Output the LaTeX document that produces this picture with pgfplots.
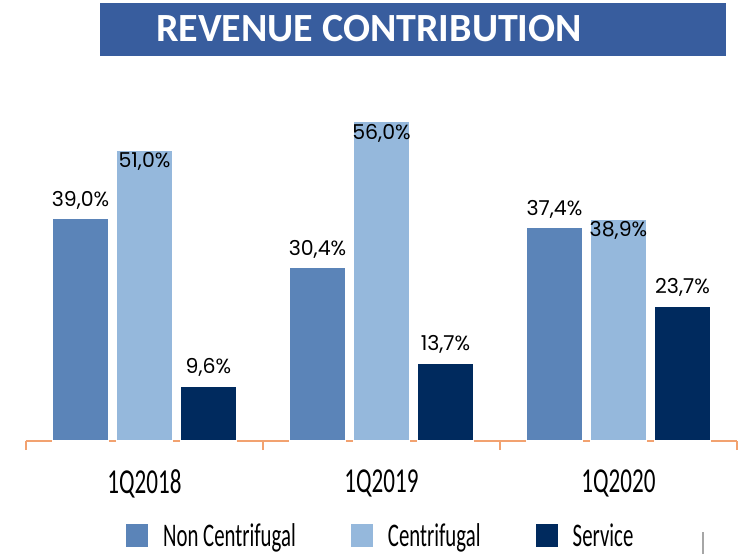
\documentclass[border=0pt]{standalone}
\usepackage{pgfplots}
\pgfplotsset{compat=1.18}
\usepackage{fontspec}
\setmainfont{Carlito}
\newfontfamily\labelfont{Poppins}
\newfontfamily\condfont[FakeStretch=0.66]{Carlito}
\newfontfamily\legfont[FakeStretch=0.63]{Carlito}
\definecolor{noncen}{RGB}{91,132,184}
\definecolor{cen}{RGB}{149,184,220}
\definecolor{serv}{RGB}{0,42,94}
\definecolor{banner}{RGB}{56,93,158}
\definecolor{axisor}{RGB}{242,162,112}
\begin{document}
\begin{tikzpicture}[x=1pt,y=1pt]
\useasboundingbox (0,0) rectangle (741,554);
\clip (0,0) rectangle (741,554);
\fill[banner] (100,498) rectangle (726,551);
\node[text=white, font=\fontsize{40}{40}\selectfont\bfseries] at (369,525) {REVENUE CONTRIBUTION};
\draw[black!35, line width=1.5pt] (703,0) -- (703,22);
\begin{axis}[
  at={(26pt,113pt)}, anchor=south west,
  scale only axis, width=711pt, height=342pt,
  xmin=-0.5, xmax=2.5, ymin=0, ymax=60,
  axis x line*=bottom, axis y line=none,
  x axis line style={axisor, line width=1.5pt},
  xtick={-0.5,0.5,1.5,2.5}, xticklabels={},
  major tick length=9pt, tick align=outside,
  xtick style={axisor, line width=1.3pt},
  extra x ticks={0,1,2},
  extra x tick labels={1Q2018,1Q2019,1Q2020},
  extra x tick style={major tick length=0pt, tick label style={font=\condfont\fontsize{35}{35}\selectfont, yshift=-25pt}},
  ybar=8pt, bar width=56pt,
  clip=false,
  /pgf/number format/assume math mode=true,
  nodes near coords={\pgfmathprintnumber[fixed,fixed zerofill,precision=1,use comma]{\pgfplotspointmeta}\%},
  every node near coord/.append style={font=\labelfont\fontsize{20.5}{20.5}\selectfont, text=black, inner sep=0pt, anchor=south, yshift=9pt},
  legend columns=3,
  legend style={at={(0.139,-0.276)}, anchor=west, draw=none, fill=none, inner sep=0pt,
    font=\legfont\fontsize{33}{33}\selectfont,
    nodes={inner sep=0pt, text depth=0pt},
    /tikz/every even column/.append style={column sep=54pt},
    /tikz/every odd column/.append style={column sep=14pt}},
  legend image code/.code={\fill[#1] (0pt,-12pt) rectangle (23pt,12pt);},
]
\addplot[fill=noncen, draw=white, line width=1.2pt] coordinates {(0,39.0) (1,30.4) (2,37.4)};
\addplot[fill=cen, draw=white, line width=1.2pt, every node near coord/.append style={anchor=north, yshift=-11pt}] coordinates {(0,51.0) (1,56.0) (2,38.9)};
\addplot[fill=serv, draw=white, line width=1.2pt] coordinates {(0,9.6) (1,13.7) (2,23.7)};
\legend{Non Centrifugal, Centrifugal, Service}
\end{axis}
\end{tikzpicture}
\end{document}
